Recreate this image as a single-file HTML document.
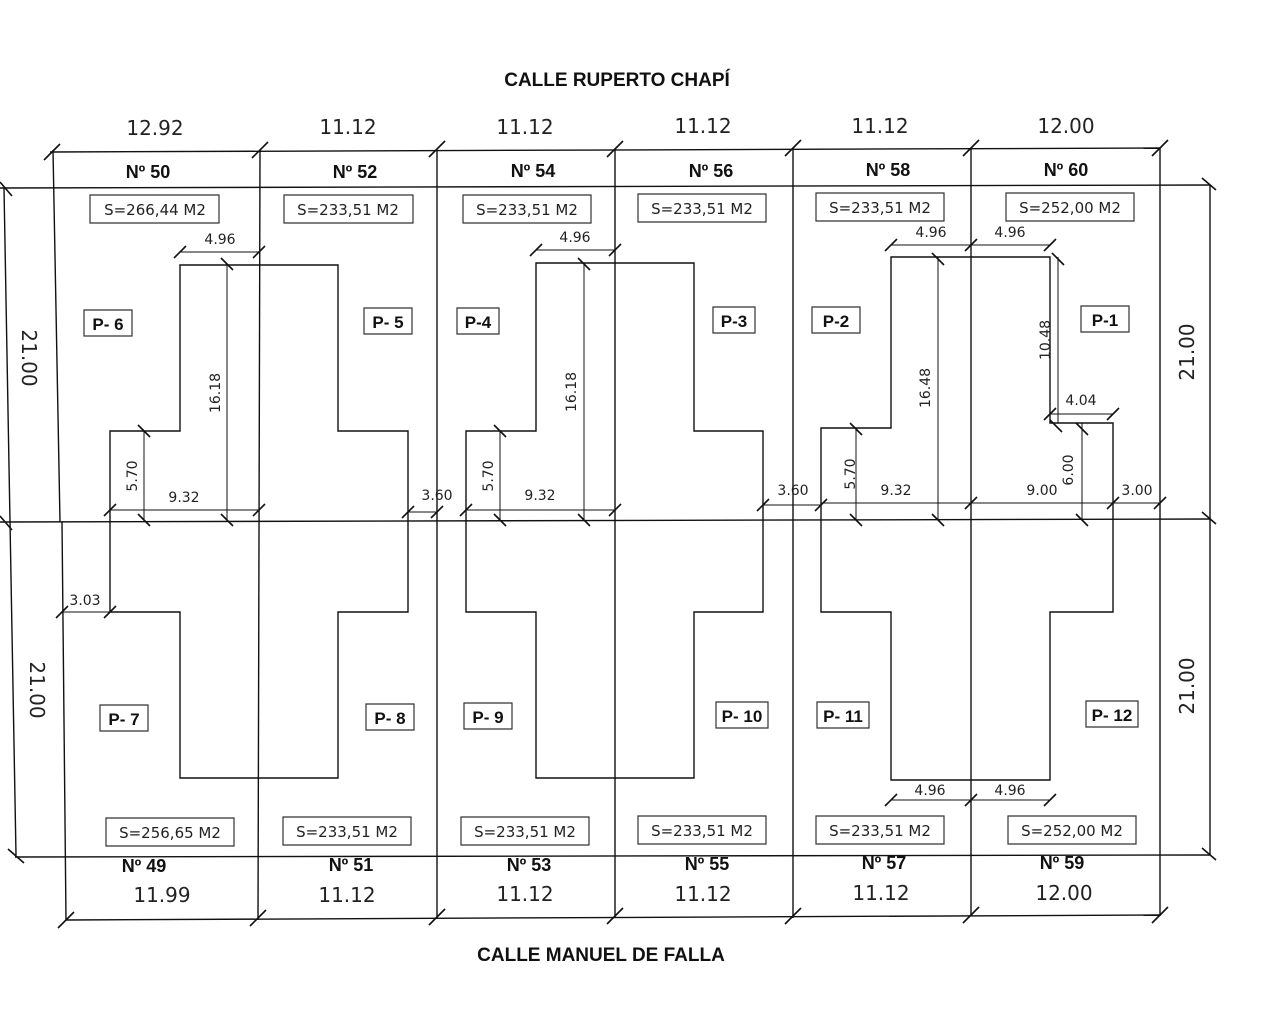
<!DOCTYPE html>
<html><head><meta charset="utf-8"><style>
html,body{margin:0;padding:0;background:#fff;}
svg{display:block}
.t{font-family:"Liberation Sans",sans-serif;fill:#111}
.b{font-weight:bold}
.d{font-family:"DejaVu Sans","Liberation Sans",sans-serif;fill:#222}
</style></head><body>
<svg width="1280" height="1024" viewBox="0 0 1280 1024" xmlns="http://www.w3.org/2000/svg">
<g stroke="#111" stroke-width="1.4" fill="none">
<line x1="50" y1="152" x2="1160" y2="148"/>
<line x1="0" y1="188" x2="1210" y2="185"/>
<line x1="0" y1="522" x2="1210" y2="519"/>
<line x1="15" y1="857" x2="1210" y2="855"/>
<line x1="66" y1="920" x2="1160" y2="915"/>
<line x1="4" y1="188" x2="16" y2="855"/>
<line x1="1210" y1="185" x2="1210" y2="855"/>
<line x1="53" y1="150" x2="60" y2="522"/>
<line x1="62" y1="522" x2="66" y2="920"/>
<line x1="260" y1="150" x2="258" y2="920"/>
<line x1="437" y1="150" x2="437" y2="918"/>
<line x1="615" y1="150" x2="615" y2="918"/>
<line x1="793" y1="150" x2="793" y2="918"/>
<line x1="971" y1="148" x2="971" y2="916"/>
<line x1="1160" y1="148" x2="1160" y2="916"/>
<path d="M180 265 H338 V431 H408 V612 H338 V778 H180 V612 H110 V431 H180 Z"/>
<path d="M536 263 H694 V431 H763 V612 H694 V778 H536 V612 H466 V431 H536 Z"/>
<path d="M891 257 H1050 V423 H1113 V612 H1050 V780 H891 V612 H821 V428 H891 Z"/>
</g>
<g stroke="#111" stroke-width="1" fill="none">
<line x1="180" y1="252" x2="259" y2="252"/>
<line x1="227" y1="265" x2="227" y2="520"/>
<line x1="144" y1="431" x2="144" y2="520"/>
<line x1="110" y1="510" x2="259" y2="510"/>
<line x1="62" y1="612" x2="110" y2="612"/>
<line x1="408" y1="512" x2="437" y2="512"/>
<line x1="536" y1="250" x2="615" y2="250"/>
<line x1="584" y1="263" x2="584" y2="520"/>
<line x1="500" y1="431" x2="500" y2="520"/>
<line x1="466" y1="510" x2="615" y2="510"/>
<line x1="763" y1="505" x2="821" y2="505"/>
<line x1="891" y1="245" x2="1050" y2="245"/>
<line x1="938" y1="257" x2="938" y2="520"/>
<line x1="856" y1="428" x2="856" y2="520"/>
<line x1="821" y1="503" x2="1160" y2="503"/>
<line x1="1058" y1="257" x2="1058" y2="423"/>
<line x1="1050" y1="414" x2="1113" y2="414"/>
<line x1="1082" y1="423" x2="1082" y2="520"/>
<line x1="891" y1="800" x2="1050" y2="800"/>
</g>
<g stroke="#111" stroke-width="1.6" fill="none">
<path d="M44 160l16-16 M252 158l16-16 M429 157l16-16 M607 157l16-16 M785 156l16-16 M963 156l16-16 M1152 156l16-16
M58 928l16-16 M250 926l16-16 M429 925l16-16 M607 924l16-16 M785 924l16-16 M963 923l16-16 M1152 923l16-16
M0 182l12 14 M0 516l12 14 M8 849l16 14 M1202 178l14 12 M1202 512l14 12 M1202 848l14 12
M174 258l12-12 M253 258l12-12 M221 258l12 12 M138 425l12 12 M104 516l12-12 M138 514l12 12 M221 514l12 12 M253 516l12-12
M56 618l12-12 M104 618l12-12 M402 518l12-12 M431 518l12-12
M530 256l12-12 M609 256l12-12 M578 258l12 12 M494 425l12 12 M460 516l12-12 M494 514l12 12 M578 514l12 12 M609 516l12-12
M757 511l12-12 M815 511l12-12 M885 251l12-12 M965 251l12-12 M1044 251l12-12 M932 253l12 12 M1052 253l12 12 M850 423l12 12 M850 514l12 12 M932 514l12 12 M965 509l12-12
M1044 420l12-12 M1107 420l12-12 M1050 420l12 12 M1076 423l12 12 M1076 514l12 12 M1107 509l12-12 M1154 509l12-12
M885 806l12-12 M965 806l12-12 M1044 806l12-12"/>
</g>
<path stroke="#333" stroke-width="1.2" fill="none" d="
M90 195h129v28h-129z M284 195h129v28h-129z M463 195h128v28h-128z M638 194h128v28h-128z M816 193h128v28h-128z M1006 193h128v28h-128z
M106 818h128v28h-128z M283 817h128v28h-128z M461 817h128v28h-128z M638 816h128v28h-128z M816 816h128v28h-128z M1008 816h128v28h-128z
M84 310h48v26h-48z M364 308h48v26h-48z M457 308h42v26h-42z M713 307h42v26h-42z M812 307h48v26h-48z M1081 306h48v26h-48z
M100 705h48v26h-48z M366 704h48v26h-48z M464 703h48v26h-48z M716 702h52v26h-52z M817 702h52v26h-52z M1086 701h52v26h-52z"/>
<g class="t b" font-size="19" text-anchor="middle">
<text x="617" y="86">CALLE RUPERTO CHAPÍ</text>
<text x="601" y="961">CALLE MANUEL DE FALLA</text>
</g>
<g class="t b" font-size="18" text-anchor="middle">
<text x="148" y="178">Nº 50</text><text x="355" y="178">Nº 52</text><text x="533" y="177">Nº 54</text>
<text x="711" y="177">Nº 56</text><text x="888" y="176">Nº 58</text><text x="1066" y="176">Nº 60</text>
<text x="144" y="872">Nº 49</text><text x="351" y="871">Nº 51</text><text x="529" y="871">Nº 53</text>
<text x="707" y="870">Nº 55</text><text x="884" y="869">Nº 57</text><text x="1062" y="869">Nº 59</text>
</g>
<g class="t b" font-size="17" text-anchor="middle">
<text x="108" y="330">P- 6</text><text x="388" y="328">P- 5</text><text x="478" y="328">P-4</text>
<text x="734" y="327">P-3</text><text x="836" y="327">P-2</text><text x="1105" y="326">P-1</text>
<text x="124" y="725">P- 7</text><text x="390" y="724">P- 8</text><text x="488" y="723">P- 9</text>
<text x="742" y="722">P- 10</text><text x="843" y="722">P- 11</text><text x="1112" y="721">P- 12</text>
</g>
<g class="d" font-size="20" text-anchor="middle">
<text x="155" y="135">12.92</text><text x="348" y="134">11.12</text><text x="525" y="134">11.12</text>
<text x="703" y="133">11.12</text><text x="880" y="133">11.12</text><text x="1066" y="133">12.00</text>
<text x="162" y="902">11.99</text><text x="347" y="902">11.12</text><text x="525" y="901">11.12</text>
<text x="703" y="901">11.12</text><text x="881" y="900">11.12</text><text x="1064" y="900">12.00</text>
<text transform="translate(22,358) rotate(90)">21.00</text>
<text transform="translate(30,690) rotate(90)">21.00</text>
<text transform="translate(1194,352) rotate(-90)">21.00</text>
<text transform="translate(1194,686) rotate(-90)">21.00</text>
</g>
<g class="d" font-size="15" text-anchor="middle">
<text x="155" y="215">S=266,44 M2</text><text x="348" y="215">S=233,51 M2</text><text x="527" y="215">S=233,51 M2</text>
<text x="702" y="214">S=233,51 M2</text><text x="880" y="213">S=233,51 M2</text><text x="1070" y="213">S=252,00 M2</text>
<text x="170" y="838">S=256,65 M2</text><text x="347" y="837">S=233,51 M2</text><text x="525" y="837">S=233,51 M2</text>
<text x="702" y="836">S=233,51 M2</text><text x="880" y="836">S=233,51 M2</text><text x="1072" y="836">S=252,00 M2</text>
</g>
<g class="d" font-size="14" text-anchor="middle">
<text x="220" y="244">4.96</text><text x="575" y="242">4.96</text><text x="931" y="237">4.96</text><text x="1010" y="237">4.96</text>
<text x="184" y="502">9.32</text><text x="540" y="500">9.32</text><text x="896" y="495">9.32</text><text x="1042" y="495">9.00</text>
<text x="437" y="500">3.60</text><text x="793" y="495">3.60</text><text x="1137" y="495">3.00</text>
<text x="85" y="605">3.03</text><text x="1081" y="405">4.04</text>
<text x="930" y="795">4.96</text><text x="1010" y="795">4.96</text>
<text transform="translate(220,393) rotate(-90)">16.18</text>
<text transform="translate(576,392) rotate(-90)">16.18</text>
<text transform="translate(930,388) rotate(-90)">16.48</text>
<text transform="translate(137,476) rotate(-90)">5.70</text>
<text transform="translate(493,476) rotate(-90)">5.70</text>
<text transform="translate(855,474) rotate(-90)">5.70</text>
<text transform="translate(1050,340) rotate(-90)">10.48</text>
<text transform="translate(1073,470) rotate(-90)">6.00</text>
</g>
</svg>
</body></html>
